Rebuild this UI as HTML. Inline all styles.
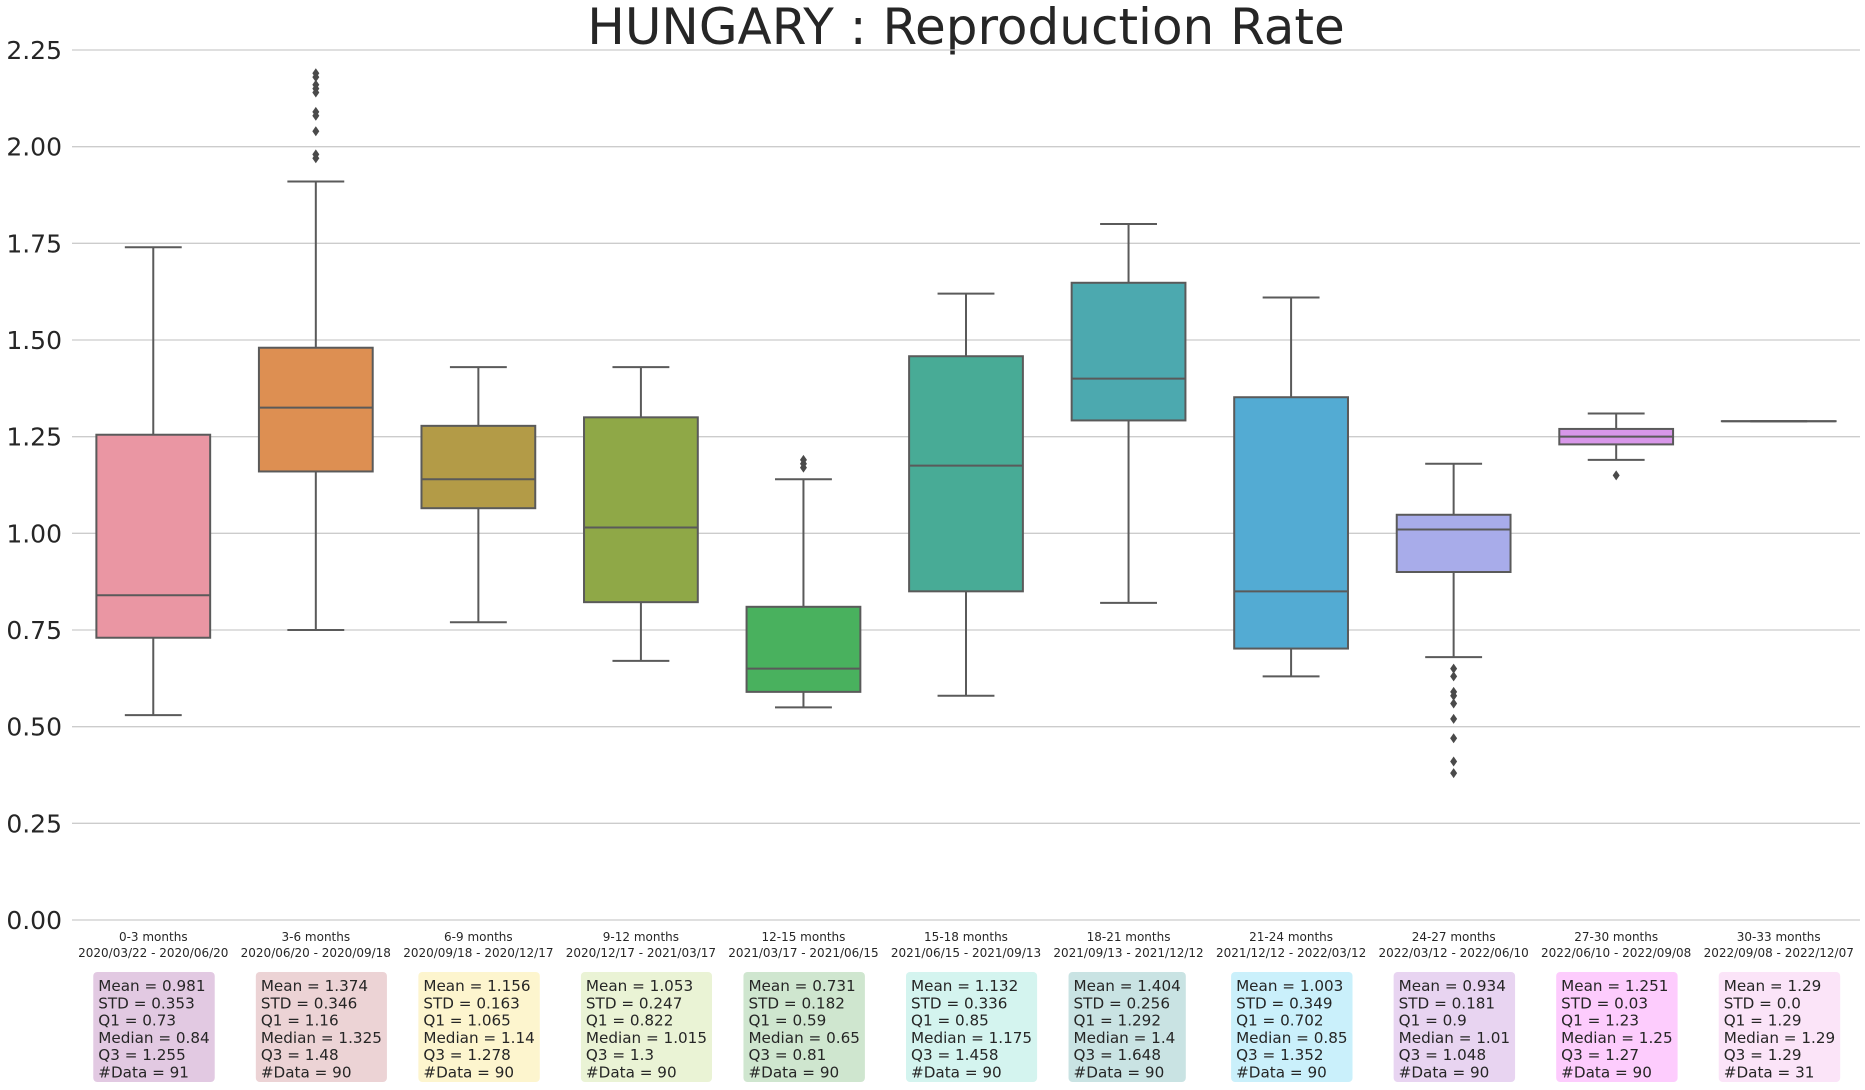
<!DOCTYPE html>
<html><head><meta charset="utf-8"><style>
body{margin:0;background:#fff;}
svg text{font-family:"DejaVu Sans","Liberation Sans",sans-serif;fill:#262626;}
</style></head><body>
<svg id="chart" width="1865" height="1085" xmlns="http://www.w3.org/2000/svg">
<text x="966" y="44" font-size="50" text-anchor="middle">HUNGARY : Reproduction Rate</text>
<g id="grid"></g><g id="boxes"></g><g id="labels"></g>
</svg>
<script>
const categories=["0-3 months","3-6 months","6-9 months","9-12 months","12-15 months","15-18 months","18-21 months","21-24 months","24-27 months","27-30 months","30-33 months"];
const dateRanges=["2020/03/22 - 2020/06/20","2020/06/20 - 2020/09/18","2020/09/18 - 2020/12/17","2020/12/17 - 2021/03/17","2021/03/17 - 2021/06/15","2021/06/15 - 2021/09/13","2021/09/13 - 2021/12/12","2021/12/12 - 2022/03/12","2022/03/12 - 2022/06/10","2022/06/10 - 2022/09/08","2022/09/08 - 2022/12/07"];
const means=[0.981,1.374,1.156,1.053,0.731,1.132,1.404,1.003,0.934,1.251,1.29];
const stds=["0.353","0.346","0.163","0.247","0.182","0.336","0.256","0.349","0.181","0.03","0.0"];
const q1s=[0.73,1.16,1.065,0.822,0.59,0.85,1.292,0.702,0.9,1.23,1.29];
const medians=[0.84,1.325,1.14,1.015,0.65,1.175,1.4,0.85,1.01,1.25,1.29];
const q3s=[1.255,1.48,1.278,1.3,0.81,1.458,1.648,1.352,1.048,1.27,1.29];
const counts=[91,90,90,90,90,90,90,90,90,90,31];
const whiskerLow=[0.53,0.75,0.77,0.67,0.55,0.58,0.82,0.63,0.68,1.19,1.29];
const whiskerHigh=[1.74,1.91,1.43,1.43,1.14,1.62,1.80,1.61,1.18,1.31,1.29];
const outliers=[[],[2.19,2.18,2.16,2.15,2.14,2.09,2.08,2.04,1.98,1.97],[],[],[1.19,1.18,1.17],[],[],[],[0.65,0.63,0.59,0.58,0.56,0.52,0.47,0.41,0.38],[1.15],[]];
const yTicks=[0,0.25,0.5,0.75,1.0,1.25,1.5,1.75,2.0,2.25];
const fills=["#ea96a3","#dd8f52","#b39b47","#8fa847","#49b15e","#48ab96","#4ca9af","#53abd3","#a8acea","#d897e9","#ef93c9"];
const statFills=["#e2c9e2","#ecd3d5","#fdf5ce","#eaf3d5","#cfe6cf","#d4f4ef","#c9e3e3","#caf0fb","#e8d4f1","#fdccfd","#fbe4f8"];
const NS="http://www.w3.org/2000/svg";
const L=72,R=1860,Y0=920,Y1=50,VMAX=2.25;
const y=v=>Y0-(v/VMAX)*(Y0-Y1);
const band=(R-L)/categories.length;
const x=i=>L+band*(i+0.5);
function mk(t,a,p){const e=document.createElementNS(NS,t);for(const k in a)e.setAttribute(k,a[k]);p.appendChild(e);return e;}
const grid=document.getElementById('grid'),boxes=document.getElementById('boxes'),labels=document.getElementById('labels');
yTicks.forEach(v=>{
 const g=mk('line',{x1:L,x2:R,y1:y(v),y2:y(v),stroke:'#cccccc','stroke-width':1.3},grid);
 
 
 const t=mk('text',{x:62,y:y(v)+9,'font-size':25,'text-anchor':'end'},grid);
 t.textContent=v.toFixed(2);
 
 
});
const S='#5a5a5a';
categories.forEach((c,i)=>{
 const cx=x(i),bw=band*0.7,cw=bw/2;
 const g=mk('g',{},boxes);
 
 
 mk('line',{x1:cx,x2:cx,y1:y(whiskerLow[i]),y2:y(q1s[i]),stroke:S,'stroke-width':2},g);
 mk('line',{x1:cx,x2:cx,y1:y(q3s[i]),y2:y(whiskerHigh[i]),stroke:S,'stroke-width':2},g);
 mk('line',{x1:cx-cw/2,x2:cx+cw/2,y1:y(whiskerLow[i]),y2:y(whiskerLow[i]),stroke:S,'stroke-width':2},g);
 mk('line',{x1:cx-cw/2,x2:cx+cw/2,y1:y(whiskerHigh[i]),y2:y(whiskerHigh[i]),stroke:S,'stroke-width':2},g);
 mk('rect',{x:cx-bw/2,y:y(q3s[i]),width:bw,height:Math.max(0.01,y(q1s[i])-y(q3s[i])),fill:fills[i],stroke:S,'stroke-width':2},g);
 mk('line',{x1:cx-bw/2,x2:cx+bw/2,y1:y(medians[i]),y2:y(medians[i]),stroke:S,'stroke-width':2},g);
 outliers[i].forEach(o=>{
  const d=mk('path',{d:`M${cx} ${y(o)-5}L${cx+3.5} ${y(o)}L${cx} ${y(o)+5}L${cx-3.5} ${y(o)}Z`,fill:'#4a4a4a'},g);
  
  
 });
 const t1=mk('text',{x:cx,y:941,'font-size':12,'text-anchor':'middle'},labels);
 t1.textContent=c;
 
 
 const t2=mk('text',{x:cx,y:957,'font-size':12,'text-anchor':'middle'},labels);
 t2.textContent=dateRanges[i];
 
 
 const bx=cx-60;
 const sb=mk('rect',{x:bx,y:972,width:119,height:110,rx:4,fill:statFills[i]},labels);
 
 
 const lines=["Mean = "+means[i],"STD = "+stds[i],"Q1 = "+q1s[i],"Median = "+medians[i],"Q3 = "+q3s[i],"#Data = "+counts[i]];
 let mw=0;
 lines.forEach((s,k)=>{
  const t=mk('text',{x:bx+5,y:991+k*17.3,'font-size':15.2},labels);
  t.textContent=s;
  
  
  mw=Math.max(mw,t.getComputedTextLength());
 });
 sb.setAttribute('width',mw+10);
});
</script>
</body></html>
